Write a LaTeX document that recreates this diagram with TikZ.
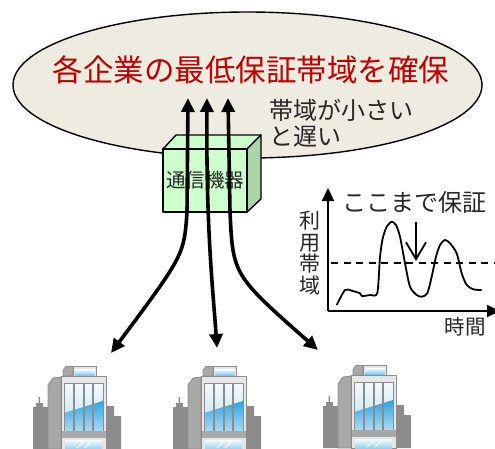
\documentclass[tikz,border=0pt]{standalone}
\usepackage{fontspec}
\setmainfont{Noto Sans CJK JP}
\usetikzlibrary{shapes.geometric,arrows.meta}

\definecolor{cloudfill}{HTML}{EEECE1}
\definecolor{titlered}{HTML}{C00000}
\definecolor{ink}{HTML}{262626}
\definecolor{boxfront}{HTML}{CCFFCC}
\definecolor{boxside}{HTML}{A9D5A9}
\definecolor{bldgray}{HTML}{8C8C8C}
\definecolor{bldside}{HTML}{A8A8A8}
\definecolor{bldface}{HTML}{E6E6E6}
\definecolor{glasstop}{HTML}{F4FAFE}
\definecolor{glassblue}{HTML}{2FA3E0}

\tikzset{
  flow/.style={line width=3.6pt,
    {Triangle[length=14pt,width=13pt]}-{Triangle[length=14pt,width=13pt]}},
  axisline/.style={line width=2pt, -{Triangle[length=13pt,width=12pt]}},
  txt/.style={text=ink, inner sep=0pt},
  facestyle/.style={draw=black, line width=1.4pt, line join=round},
  bldline/.style={draw=bldgray, line width=0.8pt},
  building/.pic={
    % city silhouette behind
    \fill[bldgray] (0,83) -- (0,41) -- (3,41) -- (3,37) -- (5.5,37) -- (5.5,31)
      -- (7,31) -- (7,37) -- (10,37) -- (10,41) -- (15,41) -- (15,83) -- cycle;
    \fill[bldgray] (73,83) -- (73,40) -- (81,40) -- (81,50) -- (88,50) -- (88,83) -- cycle;
    % side face of the tower
    \filldraw[fill=bldside, bldline] (15,83) -- (15,19) -- (20,12) -- (28,11) -- (28,83) -- cycle;
    % roof box
    \filldraw[fill=bldside, bldline] (30,10) -- (30,4) -- (33,0.5) -- (40,0.5) -- (40,10) -- cycle;
    \filldraw[fill=bldface, bldline] (40,0.5) rectangle (63,10);
    \shade[top color=glasstop, bottom color=glassblue!60] (42,3.5) rectangle (61.5,9);
    % front face
    \filldraw[fill=bldface, bldline] (28,10) rectangle (73,83);
    % glazing
    \shade[top color=glasstop, bottom color=glasstop!70!glassblue] (31,17) rectangle (70,65);
    \shade[top color=glassblue, bottom color=glassblue!40] (31,47) -- (70,35) -- (70,65) -- (31,65) -- cycle;
    \draw[bldgray, line width=0.8pt] (31,17) rectangle (70,65);
    \foreach \mx in {40.75,50.5,60.25}
      \draw[bldgray, line width=2pt] (\mx,17) -- (\mx,65);
    % base band and entrance glass
    \fill[bldside] (28.5,65) rectangle (72.5,72);
    \shade[top color=glasstop, bottom color=glassblue!50] (32,74) rectangle (69,83);
    \draw[white, line width=1pt] (44,82) -- (50,76) (52,82) -- (58,76);
  }
}

\begin{document}
\begin{tikzpicture}[x=1pt,y=-1pt]
\useasboundingbox (0,0) rectangle (495,448);

% goal cloud
\node[ellipse, draw=black, line width=1.4pt, fill=cloudfill,
      minimum width=469pt, minimum height=146pt, inner sep=0pt] (cloud) at (247.5,85) {};
\node[txt, text=titlered, font=\fontsize{30.5}{36}\selectfont] (title) at (251,70)
  {各企業の最低保証帯域を確保};
\node[txt, anchor=west, font=\fontsize{24}{28}\selectfont] (slow1) at (269,110) {帯域が小さい};
\node[txt, anchor=west, font=\fontsize{24}{28}\selectfont] (slow2) at (269,137) {と遅い};

% network device box
\filldraw[fill=boxfront, facestyle] (163,149) -- (176,135) -- (261,135) -- (247,149) -- cycle;
\filldraw[fill=boxside, facestyle] (247,149) -- (261,135) -- (261,199) -- (247,212) -- cycle;
\filldraw[fill=boxfront, facestyle] (163,149) rectangle (247,212);
\node[txt, font=\fontsize{19.5}{22}\selectfont] (device) at (205,180) {通信機器};

% traffic flows
\coordinate (up1) at (188,98);
\coordinate (up2) at (207,98);
\coordinate (up3) at (228,98);
\coordinate (down1) at (111,353);
\coordinate (down2) at (217,348);
\coordinate (down3) at (318,350);
\draw[flow] (up1) -- (187,212) .. controls (184,255) .. (down1);
\draw[flow] (up2) .. controls (206,230) and (213,290) .. (down2);
\draw[flow] (up3) -- (230,212) .. controls (233,275) .. (down3);

% bandwidth chart
\coordinate (origin) at (328,311);
\coordinate (ytip) at (328,188);
\coordinate (xtip) at (500,311);
\draw[axisline] (origin) -- (ytip);
\draw[axisline] (origin) -- (xtip);
\draw[line width=1.6pt, dash pattern=on 7pt off 5.5pt] (331,263) -- (495,263);
\draw[line width=1.8pt, line join=round] plot[smooth, tension=0.45] coordinates {
  (336.7,305) (345,290) (351.7,290.7) (360,293.3) (362,296) (370,295) (377.3,293)
  (380,257) (382.7,238.3) (386.7,226.7) (391.7,221.7) (396,225) (400,236.7)
  (405,263.3) (410,286.7) (416.7,295) (421.7,296.7) (427.3,293.3) (431.7,276.7)
  (436,256.7) (440,245) (445,240) (450,243.3) (456.7,253.3) (461.7,273.3)
  (466.7,285) (473.3,289.3) (481.7,290)};
\coordinate (mark) at (416,222);
\coordinate (marktip) at (416,261);
\draw[line width=1.8pt, -{Straight Barb[length=17pt,width=20pt,line width=1.8pt]}] (mark) -- (marktip);
\node[txt, font=\fontsize{24}{28}\selectfont] (guar) at (414,202) {ここまで保証};
\node[txt, align=center, font=\fontsize{21}{21.5}\selectfont] (ylab) at (310,253) {利\\用\\帯\\域};
\node[txt, font=\fontsize{20.5}{24}\selectfont] (xlab) at (465,327) {時間};

% company offices
\pic (office1) at (33,366) {building};
\pic (office2) at (173,366) {building};
\pic (office3) at (323,365) {building};
\end{tikzpicture}
\end{document}
